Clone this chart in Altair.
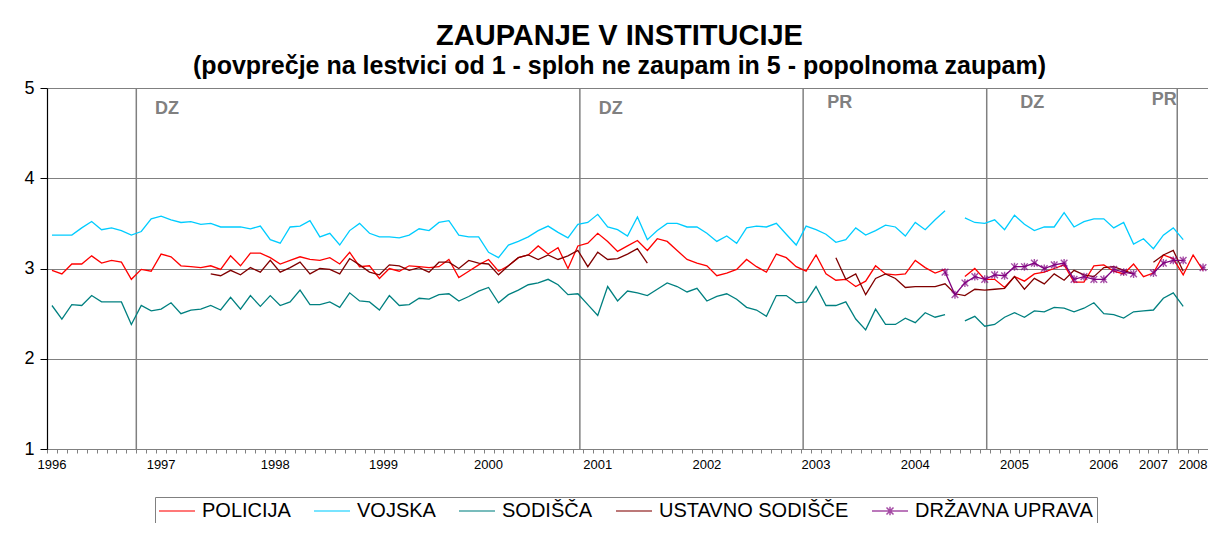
import altair as alt
import pandas as pd

FONT = "Liberation Sans"
N = 117
W, H = 1161, 361

series_names = ["POLICIJA", "VOJSKA", "SODIŠČA", "USTAVNO SODIŠČE", "DRŽAVNA UPRAVA"]
series_colors = ["#FF0000", "#00CCFF", "#008080", "#800000", "#800080"]

policija = [2.98, 2.94, 3.05, 3.05, 3.14, 3.06, 3.09, 3.07, 2.88, 2.99, 2.97, 3.16, 3.13, 3.03, 3.02, 3.01,
            3.03, 2.99, 3.14, 3.03, 3.17, 3.17, 3.12, 3.05, 3.09, 3.13, 3.10, 3.09, 3.12, 3.05, 3.18, 3.02,
            3.03, 2.89, 3.00, 2.97, 3.03, 3.02, 3.01,
            3.02, 3.10, 2.90, 2.97, 3.04, 3.10, 2.97, 3.03, 3.12, 3.15, 3.25, 3.16, 3.23, 3.00, 3.25, 3.28,
            3.39, 3.30, 3.19, 3.25, 3.31, 3.20, 3.33, 3.30, 3.20, 3.10, 3.06, 3.03, 2.92, 2.95, 2.99, 3.10,
            3.02, 2.96, 3.16, 3.12, 3.02, 2.97, 3.15,
            2.94, 2.87, 2.88, 2.80, 2.86, 3.03, 2.94, 2.93, 2.94, 3.09, 3.01, 2.95, 2.99, None, 2.91, 3.00,
            2.88, 2.88, 2.79, 2.91, 2.86, 2.94, 2.96, 3.00, 3.04, 2.85, 2.85, 3.03, 3.04, 2.97, 2.94, 3.05,
            2.91, 2.95, 3.15, 3.11, 2.93, 3.15, 2.98]

vojska = [3.37, 3.37, 3.37, 3.45, 3.52, 3.43, 3.45, 3.42, 3.37, 3.41, 3.55, 3.58, 3.54, 3.51, 3.52, 3.49,
          3.50, 3.46, 3.46, 3.46, 3.44, 3.47, 3.32, 3.28, 3.46, 3.47, 3.53, 3.35, 3.39, 3.26, 3.42, 3.50,
          3.39, 3.35, 3.35, 3.34, 3.37, 3.44, 3.42,
          3.51, 3.53, 3.37, 3.35, 3.35, 3.18, 3.12, 3.26, 3.30, 3.35, 3.42, 3.47, 3.40, 3.34, 3.49, 3.51,
          3.60, 3.46, 3.43, 3.36, 3.57, 3.32, 3.42, 3.50, 3.50, 3.46, 3.46, 3.39, 3.30, 3.36, 3.28, 3.45,
          3.47, 3.46, 3.50, 3.38, 3.26, 3.47, 3.43,
          3.38, 3.29, 3.32, 3.45, 3.37, 3.42, 3.48, 3.46, 3.36, 3.51, 3.43, 3.54, 3.64, None, 3.56, 3.51,
          3.50, 3.54, 3.43, 3.59, 3.49, 3.42, 3.46, 3.46, 3.62, 3.46, 3.52, 3.55, 3.55, 3.45, 3.51, 3.27,
          3.33, 3.22, 3.37, 3.45, 3.32, None, None]

sodisca = [2.59, 2.44, 2.60, 2.59, 2.70, 2.63, 2.63, 2.63, 2.38, 2.59, 2.53, 2.55, 2.62, 2.50, 2.54, 2.55,
           2.59, 2.54, 2.68, 2.55, 2.70, 2.58, 2.70, 2.59, 2.63, 2.76, 2.60, 2.60, 2.63, 2.57, 2.73, 2.64,
           2.63, 2.54, 2.70, 2.59, 2.60, 2.67, 2.66,
           2.71, 2.72, 2.64, 2.69, 2.75, 2.79, 2.62, 2.71, 2.76, 2.82, 2.84, 2.88, 2.82, 2.71, 2.72, 2.60,
           2.48, 2.80, 2.64, 2.75, 2.73, 2.70, 2.77, 2.84, 2.80, 2.74, 2.78, 2.64, 2.69, 2.72, 2.66, 2.57,
           2.54, 2.47, 2.70, 2.70, 2.62, 2.63, 2.80,
           2.59, 2.59, 2.63, 2.44, 2.32, 2.55, 2.38, 2.38, 2.45, 2.40, 2.51, 2.46, 2.49, None, 2.42, 2.47,
           2.36, 2.38, 2.46, 2.51, 2.46, 2.53, 2.52, 2.57, 2.56, 2.52, 2.56, 2.62, 2.50, 2.49, 2.45, 2.52,
           2.53, 2.54, 2.67, 2.73, 2.58, None, None]

ustavno = ([None] * 16 +
           [2.94, 2.92, 2.98, 2.93, 3.01, 2.96, 3.09, 2.96, 3.01, 3.07, 2.94, 3.00, 2.99, 2.94, 3.11, 3.04,
            2.96, 2.93, 3.04, 3.03, 2.98, 3.01, 2.96,
            3.07, 3.07, 3.00, 3.09, 3.06, 3.05, 2.93, 3.03, 3.12, 3.15, 3.10, 3.15, 3.10, 3.14, 3.20, 3.02,
            3.18, 3.10, 3.11, 3.16, 3.22, 3.06] +
           [None] * 18 +
           [3.12, 2.88, 2.94, 2.71, 2.89, 2.94, 2.89, 2.79, 2.80, 2.80, 2.80, 2.83, 2.72, 2.70, 2.77, 2.76,
            2.77, 2.78, 2.91, 2.77, 2.89, 2.83, 2.94, 2.87, 2.98, 2.93, 2.91, 3.01, 3.02, 2.98, 2.94, None,
            3.07, 3.15, 3.20, 2.97] +
           [None] * 2)

drzavna = ([None] * 90 +
           [2.96, 2.71, 2.84, 2.91, 2.88, 2.93, 2.92, 3.02, 3.02, 3.06, 3.00, 3.04, 3.06, 2.88, 2.91, 2.88,
            2.88, 2.99, 2.96, 2.94, None, 2.95, 3.06, 3.09, 3.09, None, 3.01])

year_labels = ["1996", "1997", "1998", "1999", "2000", "2001", "2002", "2003", "2004", "2005", "2006", "2007", "2008"]
year_pos = [0, 11, 22.5, 33.4, 44, 55, 66, 77, 87, 97, 106, 111, 115]

event_labels = ["DZ", "DZ", "PR", "DZ", "PR"]
event_pos = [8.5, 53.2, 75.7, 94.2, 113.4]
event_label_pos = [11.6, 56.3, 79.4, 98.8, 112.1]
event_label_y = [4.77, 4.77, 4.83, 4.83, 4.87]

rows = []
for name, vals in zip(series_names, [policija, vojska, sodisca, ustavno, drzavna]):
    for i, v in enumerate(vals):
        rows.append({"idx": i, "series": name, "value": v})
df = pd.DataFrame(rows)
df_dr = df[(df["series"] == "DRŽAVNA UPRAVA") & df["value"].notna()]

xscale = alt.Scale(domain=[-0.5, N - 0.5], nice=False, zero=False)
yscale = alt.Scale(domain=[1, 5], nice=False, zero=False)

x_axis = alt.Axis(values=[i - 0.5 for i in range(N + 1)], labels=False, ticks=True,
                  tickSize=4, tickColor="#808080", domainColor="#808080",
                  grid=False, title=None)
y_axis = alt.Axis(values=[1, 2, 3, 4, 5], format="d", tickSize=7, tickColor="black",
                  domainColor="black", domainWidth=1.2, labelFont=FONT, labelFontSize=18,
                  labelColor="black", labelPadding=6, grid=True, gridColor="#808080",
                  gridWidth=1, title=None)


def xenc(field):
    return alt.X(field + ":Q", scale=xscale, axis=x_axis)


def yenc(field):
    return alt.Y(field + ":Q", scale=yscale, axis=y_axis)


legend_kw = dict(
    title=None, orient="none", legendX=108, legendY=409, direction="horizontal",
    symbolSize=400, symbolStrokeWidth=1.5, labelFont=FONT, labelFontSize=20,
    labelColor="black", labelOffset=22, columnPadding=20, padding=3, labelLimit=400,
    strokeColor="#808080",
)

line_sym = "M-1,0L2.6,0"
star_sym = "M-1,0L2.6,0M0.45,-0.35L1.15,0.35M0.45,0.35L1.15,-0.35M0.8,-0.42L0.8,0.42"

color = alt.Color("series:N", scale=alt.Scale(domain=series_names, range=series_colors),
                  legend=alt.Legend(**legend_kw))

lines = alt.Chart(df).mark_line(strokeWidth=1.3, invalid="break-paths-show-domains").encode(
    x=xenc("idx"), y=yenc("value"), color=color
)

asterisk = "M-1,-1L1,1M-1,1L1,-1M0,-1.2L0,1.2"
stars = alt.Chart(df_dr).mark_point(shape=asterisk, size=44, filled=False, strokeWidth=1.4,
                                    color="#800080").encode(
    x=xenc("idx"), y=yenc("value"),
)

legend_layer = alt.Chart(df_dr).mark_point(size=4, filled=False, strokeWidth=1.3).encode(
    x=xenc("idx"), y=yenc("value"),
    color=alt.Color("series:N", scale=alt.Scale(domain=series_names, range=series_colors),
                    legend=alt.Legend(**legend_kw)),
    shape=alt.Shape("series:N",
                    scale=alt.Scale(domain=series_names,
                                    range=[line_sym, line_sym, line_sym, line_sym, star_sym]),
                    legend=alt.Legend(**legend_kw)),
)

ev_df = pd.DataFrame({"pos": event_pos, "lpos": event_label_pos, "ly": event_label_y, "label": event_labels})
rules = alt.Chart(ev_df).mark_rule(color="#808080", strokeWidth=1.5).encode(
    x=xenc("pos"), y=alt.value(0), y2=alt.value(H)
)
ev_text = alt.Chart(ev_df).mark_text(font=FONT, fontSize=18, fontWeight="bold", color="#808080",
                                     baseline="middle").encode(
    x=xenc("lpos"), y=yenc("ly"), text="label:N",
)

yr_df = pd.DataFrame({"pos": year_pos, "year": year_labels})
yr_text = alt.Chart(yr_df).mark_text(font=FONT, fontSize=13, color="black", baseline="middle").encode(
    x=xenc("pos"), y=alt.value(H + 16), text="year:N"
)

chart = alt.layer(rules, lines, stars, legend_layer, ev_text, yr_text).properties(
    width=W, height=H,
    autosize=alt.AutoSizeParams(type="none"),
    padding={"left": 39, "top": 80, "right": 0, "bottom": 74},
    title=alt.TitleParams(
        "ZAUPANJE V INSTITUCIJE",
        subtitle="(povprečje na lestvici od 1 - sploh ne zaupam in 5 - popolnoma zaupam)",
        font=FONT, fontSize=29, fontWeight="bold", color="black",
        subtitleFont=FONT, subtitleFontSize=25, subtitleFontWeight="bold", subtitleColor="black",
        anchor="middle", dx=-8, offset=0, subtitlePadding=3,
    ),
).configure_view(stroke="#808080", strokeWidth=1).configure(background="white")

chart.save("out.html", embed_options={"renderer": "svg", "actions": False})
